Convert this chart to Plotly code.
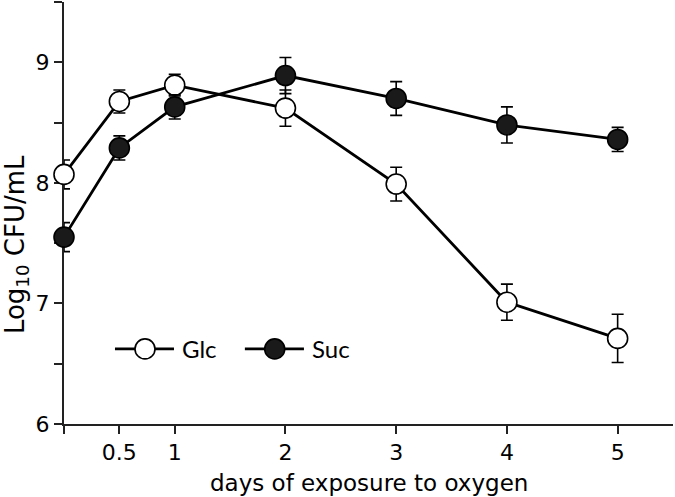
import plotly.graph_objects as go

days = [0, 0.5, 1, 2, 3, 4, 5]
glc = [8.07, 8.675, 8.81, 8.62, 7.99, 7.01, 6.71]
glc_err = [0.12, 0.095, 0.09, 0.15, 0.14, 0.15, 0.2]
suc = [7.55, 8.29, 8.63, 8.89, 8.70, 8.48, 8.36]
suc_err = [0.12, 0.10, 0.10, 0.15, 0.14, 0.15, 0.10]

x_tickvals = [0, 0.5, 1, 2, 3, 4, 5]
x_ticktext = ["", "0.5", "1", "2", "3", "4", "5"]
y_tickvals = [6, 6.5, 7, 7.5, 8, 8.5, 9, 9.5]
y_ticktext = ["6", "", "7", "", "8", "", "9", ""]

fig = go.Figure()

def add_series(y, err, fill, name):
    fig.add_trace(go.Scatter(
        x=days, y=y, mode="lines",
        line=dict(color="black", width=2.8),
        error_y=dict(type="data", array=err, visible=True, color="black",
                     thickness=1.6, width=6),
        cliponaxis=True, showlegend=False, hoverinfo="skip"))
    fig.add_trace(go.Scatter(
        x=days, y=y, mode="markers", name=name,
        marker=dict(size=20, color=fill, line=dict(color="black", width=1.6)),
        cliponaxis=False, showlegend=False))

add_series(glc, glc_err, "white", "Glc")
add_series(suc, suc_err, "#1a1a1a", "Suc")

# legend drawn manually
ly = 0.178
legend_items = [
    ("Glc", "white", 0.0837, 0.1806, 0.133, 0.190),
    ("Suc", "#1a1a1a", 0.297, 0.394, 0.346, 0.404),
]
for name, fill, x0, x1, xc, xt in legend_items:
    fig.add_shape(type="line", xref="paper", yref="paper", x0=x0, x1=x1, y0=ly, y1=ly,
                  line=dict(color="black", width=2.8))
    fig.add_shape(type="circle", xref="paper", yref="paper", xsizemode="pixel",
                  ysizemode="pixel", xanchor=xc, yanchor=ly, x0=-10, x1=10, y0=-10, y1=10,
                  fillcolor=fill, line=dict(color="black", width=1.6))
    fig.add_annotation(x=xt, y=ly, xref="paper", yref="paper", text=name,
                       showarrow=False, xanchor="left", yanchor="middle",
                       font=dict(family="Lato, Open Sans, sans-serif", size=24, color="black"))

tick_font = dict(family="DejaVu Sans, sans-serif", size=22, color="black")

# axis titles
fig.add_annotation(x=0.5016, y=-0.140, xref="paper", yref="paper",
                   text="days of exposure to oxygen", showarrow=False,
                   xanchor="center", yanchor="middle",
                   font=dict(family="DejaVu Sans, sans-serif", size=23, color="black"))
fig.add_annotation(x=-0.0788, y=0.424, xref="paper", yref="paper",
                   text="Log<sub>10</sub> CFU/mL", showarrow=False, textangle=-90,
                   xanchor="center", yanchor="middle",
                   font=dict(family="DejaVu Sans, sans-serif", size=26, color="black"))

fig.update_layout(
    width=675, height=497,
    margin=dict(l=64, r=2, t=2, b=73),
    plot_bgcolor="white", paper_bgcolor="white",
    showlegend=False,
    font=tick_font,
    xaxis=dict(range=[0, 5.5], tickvals=x_tickvals, ticktext=x_ticktext,
               showgrid=False, zeroline=False, showline=True, linecolor="#222",
               linewidth=2, ticks="outside", ticklen=8, tickwidth=1.5, tickcolor="#222",
               tickfont=tick_font, automargin=False, layer="below traces"),
    yaxis=dict(range=[6, 9.5], tickvals=y_tickvals, ticktext=y_ticktext,
               showgrid=False, zeroline=False, showline=True, linecolor="#222",
               linewidth=2, ticks="outside", ticklen=8, tickwidth=1.5, tickcolor="#222",
               tickfont=tick_font, automargin=False, layer="below traces"),
)

fig.write_html("out.html", config={"displayModeBar": False},
               post_script="document.body.style.margin='0px';")
